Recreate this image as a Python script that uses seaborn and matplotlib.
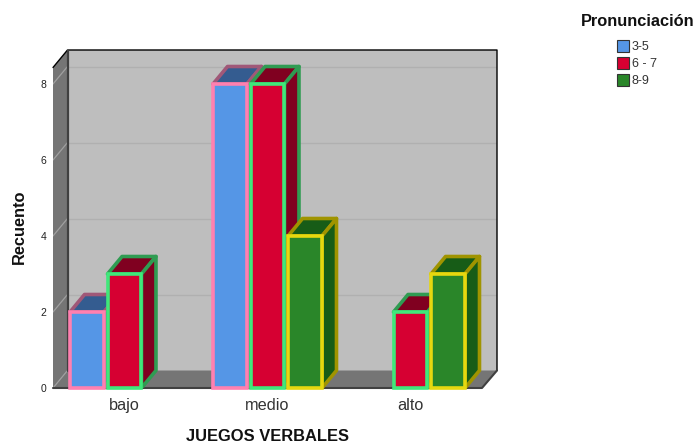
import matplotlib
matplotlib.use("Agg")
import matplotlib.pyplot as plt
from matplotlib.patches import Patch
import pandas as pd
import seaborn as sns

# recuento por juegos verbales y pronunciacion
categorias = ["bajo", "bajo", "medio", "medio", "medio", "alto", "alto"]
grupos = ["3-5", "6 - 7", "3-5", "6 - 7", "8-9", "6 - 7", "8-9"]
recuento = [2, 3, 8, 8, 4, 2, 3]
orden_cat = ["bajo", "medio", "alto"]
orden_grupos = ["3-5", "6 - 7", "8-9"]
ticks_y = [0, 2, 4, 6, 8]

colores = ["#5596E6", "#D60032", "#2A8629"]
bordes = ["#FF80B0", "#3FE87A", "#E6D80F"]
tapas = ["#345C90", "#800020", "#175C17"]
bordes_osc = ["#A05878", "#2F9C52", "#A09400"]

sns.set_theme(style="white")
plt.rcParams["font.family"] = ["Liberation Sans", "DejaVu Sans"]

df = pd.DataFrame({"cat": categorias, "grupo": grupos, "n": recuento})

fig = plt.figure(figsize=(6.99, 4.44), dpi=100)
W, H = 699, 444
# eje: x 53-497 px, y 388-50 px
ax = fig.add_axes([53 / W, (H - 388) / H, 444 / W, 338 / H])

sns.barplot(data=df, x="cat", y="n", hue="grupo", order=orden_cat, hue_order=orden_grupos,
            palette=colores, saturation=1, width=0.787, gap=0.095, legend=False, ax=ax)

xmin, xmax = -0.5, 2.5 + 15 / 143
ymax = 338 / 38
ax.set_xlim(xmin, xmax)
ax.set_ylim(0, ymax)
dx = 14.5 / 143  # profundidad del falso 3D
dy = 17.5 / 38
x_front = 2.5

# paredes
ax.fill([xmin + dx, xmax, xmax, xmin + dx], [dy, dy, ymax, ymax], color="#BEBEBE", lw=0, zorder=0.1)
ax.fill([xmin, xmin + dx, xmin + dx, xmin], [0, dy, ymax, ymax - dy], color="#757575", lw=0, zorder=0.2)
ax.fill([xmin, x_front, xmax, xmin + dx], [0, 0, dy, dy], color="#757575", lw=0, zorder=0.2)

# rejilla
for t in ticks_y:
    if t > 0:
        ax.plot([xmin + dx, xmax], [t + dy, t + dy], color="#B0B0B0", lw=1, zorder=0.3)
    ax.plot([xmin, xmin + dx], [t, t + dy], color="#A0A0A0", lw=0.9, zorder=0.3)

# bordes del cubo
ax.plot([xmin, xmin + dx, xmax, xmax], [ymax - dy, ymax, ymax, dy], color="black", lw=1, zorder=0.4, clip_on=False)
ax.plot([xmin + dx, xmin + dx], [dy, ymax], color="#404040", lw=1.6, zorder=0.4)
ax.plot([xmin, x_front, xmax], [0, 0, dy], color="#404040", lw=1.5, zorder=0.4, clip_on=False)

# cara lateral y tapa de cada barra
pos = []
for i, cont in enumerate(ax.containers):
    for bar in cont:
        if bar.get_height() > 0:
            pos.append((bar.get_x(), i, bar))
pos.sort(key=lambda p: p[0])
for k, (x0, i, bar) in enumerate(pos):
    w, h = bar.get_width(), bar.get_height()
    z = 2 + k
    ax.fill([x0, x0 + w, x0 + w + dx, x0 + dx], [h, h, h + dy, h + dy], facecolor=tapas[i],
            edgecolor=bordes_osc[i], lw=2.6, joinstyle="round", zorder=z)
    ax.fill([x0 + w, x0 + w + dx, x0 + w + dx, x0 + w], [0, dy, h + dy, h], facecolor=tapas[i],
            edgecolor=bordes_osc[i], lw=2.6, joinstyle="round", zorder=z)
    bar.set_edgecolor(bordes[i])
    bar.set_linewidth(2.6)
    bar.set_zorder(z + 0.5)
    bar.set_clip_on(False)

for s in ax.spines.values():
    s.set_visible(False)
ax.patch.set_alpha(0)
ax.set_yticks(ticks_y)
ax.tick_params(axis="y", labelsize=7.5, length=0, pad=5, colors="#222222")
ax.tick_params(axis="x", labelsize=11.7, length=0, pad=7, colors="#333333")
ax.set_xticks(range(3))
ax.set_xticklabels(orden_cat)
ax.set_xlabel("")
ax.set_ylabel("")
fig.text(267 / W, 1 - 436 / H, "JUEGOS VERBALES", fontsize=11.9, fontweight="bold", ha="center", va="center", color="#111111")
fig.text(19 / W, 1 - 227 / H, "Recuento", fontsize=11.8, fontweight="bold", rotation=90, ha="center", va="center", color="#111111")
fig.text(638 / W, 1 - 22 / H, "Pronunciación", fontsize=11.8, fontweight="bold", ha="center", va="center", color="#111111")

handles = [Patch(facecolor=c, edgecolor="#333333", lw=0.8, label=g) for c, g in zip(colores, orden_grupos)]
leg = fig.legend(handles=handles, loc="upper left", bbox_to_anchor=(617 / W, 1 - 40 / H),
                 frameon=False, fontsize=9, handlelength=0.96, handleheight=1.04, handletextpad=0.24,
                 labelspacing=0.32, borderpad=0, borderaxespad=0)
for t in leg.get_texts():
    t.set_color("#333333")

fig.savefig("out.png", dpi=100)
